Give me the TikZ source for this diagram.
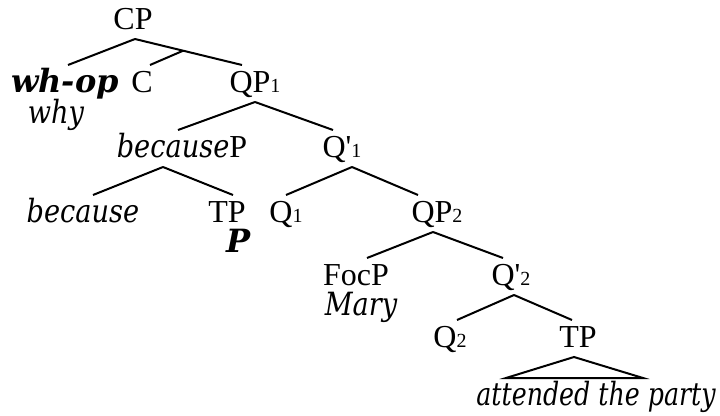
\documentclass[tikz,border=0pt]{standalone}
\usepackage{fontspec}
\setmainfont{Liberation Serif}
\newfontfamily\itfont{DejaVu Serif}[FakeStretch=0.85]
\newfontfamily\itnarrow{DejaVu Serif}[FakeStretch=0.79]
\newfontfamily\bitfont{DejaVu Serif}
\newfontfamily\primefont{Liberation Serif}
\newcommand{\ital}[1]{{\itfont\itshape #1}}
\newcommand{\bital}[1]{{\bitfont\bfseries\itshape #1}}
\newcommand{\sub}[1]{{\fontsize{20}{20}\selectfont #1}}
\newcommand{\qprime}{{\primefont'}}

\begin{document}
\begin{tikzpicture}[x=1pt, y=-1pt, line width=2pt,
  cat/.style={font=\fontsize{32}{38}\selectfont, inner sep=0pt,
    text height=26pt, text depth=9pt, anchor=base},
  gloss/.style={font=\fontsize{32}{38}\selectfont, inner sep=0pt, anchor=base}]
  \useasboundingbox (0,0) rectangle (720,415);
  % ------- upper part -------
  \node[cat] (cp) at (133,29) {CP};
  \node[cat] (whop) at (65,92) {\bital{wh-op}};
  \node[gloss] (why) at (56,123) {\ital{why}};
  \node[cat] (c) at (142,92) {C};
  \node[cat] (qp1) at (255,92) {QP\sub{1}};
  \node[cat] (becp) at (182,157) {\ital{because}P};
  \node[cat] (qbar1) at (342,157) {Q\qprime\sub{1}};
  \node[cat] (because) at (83,222) {\ital{because}};
  \node[cat] (tp1) at (227,222) {TP};
  \node[gloss] (pbold) at (239,252) {\bital{P}};
  % ------- lower part -------
  \node[cat] (q1) at (286,222) {Q\sub{1}};
  \node[cat] (qp2) at (437,222) {QP\sub{2}};
  \node[cat] (focp) at (356,285) {FocP};
  \node[gloss] (mary) at (361,315) {\ital{Mary}};
  \node[cat] (qbar2) at (511,285) {Q\qprime\sub{2}};
  \node[cat] (q2) at (450,347) {Q\sub{2}};
  \node[cat] (tp2) at (578,347) {TP};
  \node[cat] (party) at (596,405) {{\itnarrow\itshape attended the party}};
  % ------- branches -------
  \draw ([xshift=2pt]cp.south) -- ([xshift=3pt]whop.north);
  \draw ([xshift=2pt]cp.south) -- coordinate[pos=0.45] (cpmid) ([xshift=-13pt]qp1.north);
  \draw (cpmid) -- ([xshift=8pt]c.north);
  \draw (qp1.south) -- ([xshift=-4pt]becp.north);
  \draw (qp1.south) -- ([xshift=-9pt]qbar1.north);
  \draw ([xshift=-19pt]becp.south) -- ([xshift=10pt]because.north);
  \draw ([xshift=-19pt]becp.south) -- ([xshift=6pt]tp1.north);
  \draw ([xshift=10pt]qbar1.south) -- (q1.north);
  \draw ([xshift=10pt]qbar1.south) -- ([xshift=-19pt]qp2.north);
  \draw ([xshift=-4pt]qp2.south) -- ([xshift=11pt]focp.north);
  \draw ([xshift=-4pt]qp2.south) -- ([xshift=-8pt]qbar2.north);
  \draw ([xshift=3pt]qbar2.south) -- ([xshift=7pt]q2.north);
  \draw ([xshift=3pt]qbar2.south) -- ([xshift=-6pt]tp2.north);
  \draw ([xshift=-4pt]tp2.south) -- ([xshift=-90pt]party.north)
    -- ([xshift=47pt]party.north) -- cycle;
\end{tikzpicture}
\end{document}
